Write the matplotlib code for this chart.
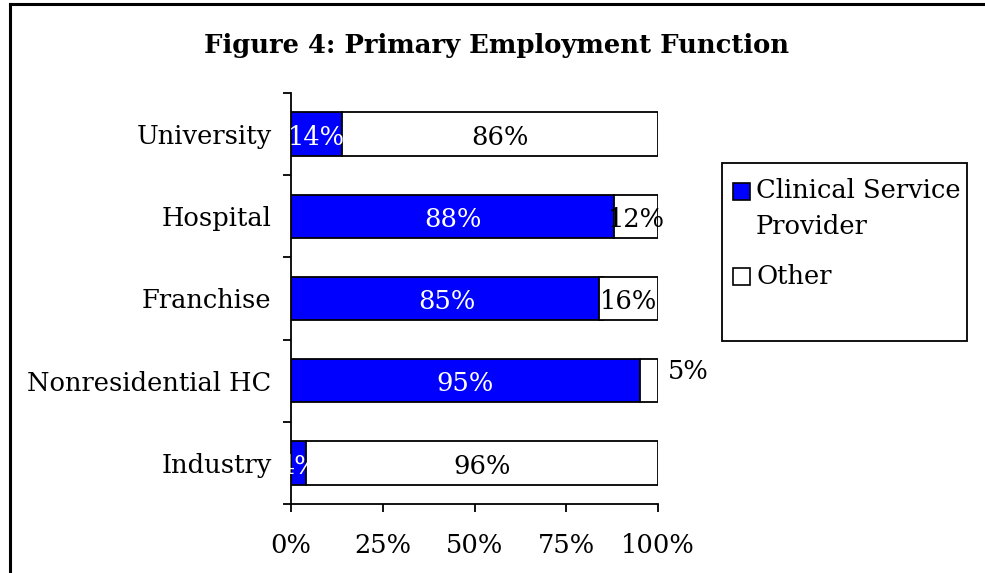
import matplotlib
matplotlib.use("Agg")
import matplotlib.pyplot as plt
from matplotlib.patches import Rectangle
from matplotlib.lines import Line2D

categories = ["Industry", "Nonresidential HC", "Franchise", "Hospital", "University"]
clinical = [4, 95, 85, 88, 14]
other = [96, 5, 16, 12, 86]
clinical_labels = ["4%", "95%", "85%", "88%", "14%"]
other_labels = ["96%", "5%", "16%", "12%", "86%"]
xticks = [0, 25, 50, 75, 100]
xtick_labels = ["0%", "25%", "50%", "75%", "100%"]
series_names = ["Clinical Service\nProvider", "Other"]
series_colors = ["#0000FF", "white"]

FONT = "DejaVu Serif"
plt.rcParams["font.family"] = [FONT, "Liberation Serif"]

W, H = 985, 573
fig = plt.figure(figsize=(W / 100, H / 100), dpi=100)

left, right, top, bottom = 291, 658, 93, 504
ax = fig.add_axes([left / W, 1 - bottom / H, (right - left) / W, (bottom - top) / H])

y = list(range(len(categories)))
bar_h = 0.53
ax.barh(y, clinical, height=bar_h, color=series_colors[0], edgecolor="black", linewidth=1.3)
other_left = [100 - o for o in other]
ax.barh(y, other, left=other_left, height=bar_h, color=series_colors[1], edgecolor="black", linewidth=1.3)

fs = 18.5
dy = -0.04
for i in y:
    ax.text(clinical[i] / 2, i + dy, clinical_labels[i], color="white", ha="center", va="center", fontsize=fs)
    if other[i] < 8:
        ax.text(100 + other[i] + 3.3, i + 0.11, other_labels[i], color="black", ha="center", va="center", fontsize=fs)
    else:
        ax.text(other_left[i] + other[i] / 2, i + dy, other_labels[i], color="black", ha="center", va="center", fontsize=fs)

ax.set_xlim(0, 100)
ax.set_ylim(-0.5, len(categories) - 0.5)
ax.set_xticks(xticks)
ax.set_xticklabels(xtick_labels, fontsize=fs)
ax.set_yticks(y)
ax.set_yticklabels(categories, fontsize=fs)
ax.set_yticks([v - 0.5 for v in range(len(categories) + 1)], minor=True)
ax.tick_params(axis="y", which="major", length=0, pad=14)
ax.tick_params(axis="y", which="minor", length=6, width=1.3, direction="out")
ax.tick_params(axis="x", which="major", length=6, width=1.3, direction="out", pad=15)
for s in ["top", "right"]:
    ax.spines[s].set_visible(False)
for s in ["left", "bottom"]:
    ax.spines[s].set_linewidth(1.3)

fig.text(497 / W, 1 - 45 / H, "Figure 4: Primary Employment Function", ha="center", va="center",
         fontsize=18.6, fontweight="bold")

# legend box drawn manually (Excel-style fixed box)
tf = fig.transFigure
fig.add_artist(Rectangle((722 / W, 1 - 341 / H), (967 - 722) / W, (341 - 163) / H,
                         transform=tf, facecolor="white", edgecolor="black", linewidth=1.3))
sq = 17
fig.add_artist(Rectangle((733 / W, 1 - 200 / H), sq / W, sq / H, transform=tf,
                         facecolor=series_colors[0], edgecolor="black", linewidth=1.2))
fig.add_artist(Rectangle((733 / W, 1 - 285 / H), sq / W, sq / H, transform=tf,
                         facecolor=series_colors[1], edgecolor="black", linewidth=1.2))
fig.text(756 / W, 1 - 191 / H, series_names[0].split("\n")[0], ha="left", va="center", fontsize=fs)
fig.text(756 / W, 1 - 227 / H, series_names[0].split("\n")[1], ha="left", va="center", fontsize=fs)
fig.text(756 / W, 1 - 276 / H, series_names[1], ha="left", va="center", fontsize=fs)

# outer border (top and left)
fig.add_artist(Line2D([10 / W, 10 / W], [0, 1 - 4 / H], transform=tf, color="black", linewidth=2.2))
fig.add_artist(Line2D([10 / W, 1], [1 - 4 / H, 1 - 4 / H], transform=tf, color="black", linewidth=2.2))

fig.savefig("out.png", dpi=100)
